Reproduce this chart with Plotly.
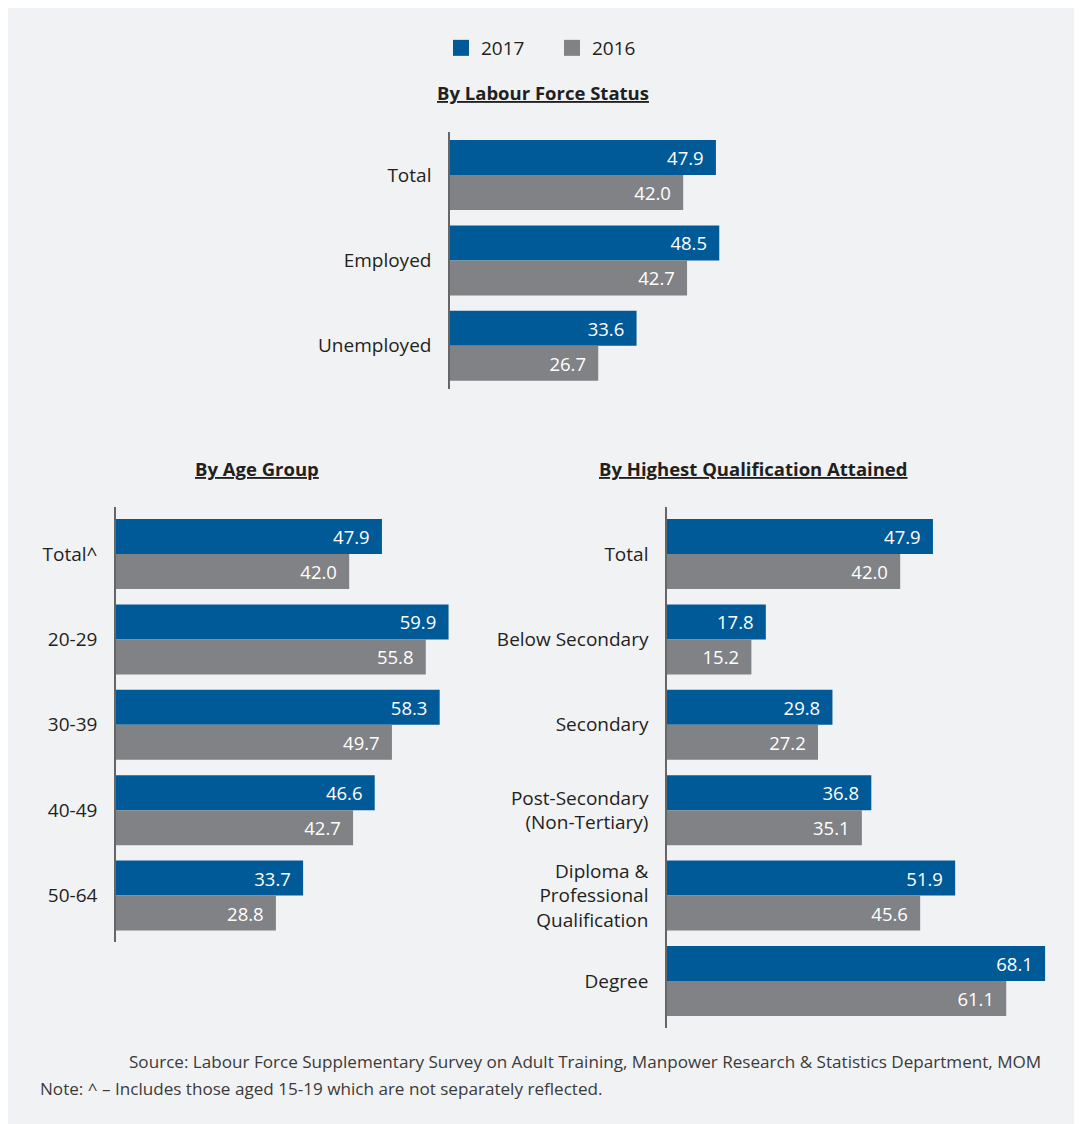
import plotly.graph_objects as go

# ---------------- data ----------------
status_cats = ["Total", "Employed", "Unemployed"]
status_2017 = [47.9, 48.5, 33.6]
status_2016 = [42.0, 42.7, 26.7]

age_cats = ["Total^", "20-29", "30-39", "40-49", "50-64"]
age_2017 = [47.9, 59.9, 58.3, 46.6, 33.7]
age_2016 = [42.0, 55.8, 49.7, 42.7, 28.8]

qual_cats = ["Total", "Below Secondary", "Secondary",
             "Post-Secondary<br>(Non-Tertiary)",
             "Diploma &<br>Professional<br>Qualification", "Degree"]
qual_2017 = [47.9, 17.8, 29.8, 36.8, 51.9, 68.1]
qual_2016 = [42.0, 15.2, 27.2, 35.1, 45.6, 61.1]

series_names = ["2017", "2016"]
titles = ["By Labour Force Status", "By Age Group", "By Highest Qualification Attained"]
source_text = "Source: Labour Force Supplementary Survey on Adult Training, Manpower Research & Statistics Department, MOM"
note_text = "Note: ^ \u2013 Includes those aged 15-19 which are not separately reflected."

# ---------------- style ----------------
OFF = 8                      # page body margin
W, H = 1082 - OFF, 1124 - OFF
BLUE = "#005a97"
GREY = "#818286"
BG = "#f1f2f4"
TXT = "#231f20"
FONT = "Open Sans"
PX_PER_UNIT = 5.552
PITCH = 85.4


def fx(px):
    return (px - OFF) / W


def fy(py):
    return 1 - (py - OFF) / H


fig = go.Figure()

panels = [
    (status_cats, status_2017, status_2016, 450, 132.3, 0.0),
    (age_cats, age_2017, age_2016, 116, 511.3, 4.0),
    (qual_cats, qual_2017, qual_2016, 667, 511.3, 4.0),
]

layout_axes = {}
for i, (cats, v17, v16, x0px, ytop, pad) in enumerate(panels):
    sfx = "" if i == 0 else str(i + 1)
    for vals, name, col in [(v17, series_names[0], BLUE), (v16, series_names[1], GREY)]:
        fig.add_trace(go.Bar(
            x=vals, y=cats, orientation="h", name=name, marker_color=col,
            marker_line_width=0, showlegend=False,
            texttemplate="%{x:.1f}\u2002", textposition="inside",
            insidetextanchor="end", textangle=0,
            textfont=dict(color="white", size=18.5, family=FONT),
            xaxis="x" + sfx, yaxis="y" + sfx, hoverinfo="skip",
        ))
    n = len(cats)
    xmax = 70
    xdom = [fx(x0px), fx(x0px + xmax * PX_PER_UNIT)]
    y_top_px = ytop - pad
    y_bot_px = ytop + n * PITCH + pad
    ydom = [fy(y_bot_px), fy(y_top_px)]
    padu = pad / PITCH
    layout_axes["xaxis" + sfx] = dict(
        domain=xdom, range=[0, xmax], visible=False, fixedrange=True,
        anchor="y" + sfx,
    )
    layout_axes["yaxis" + sfx] = dict(
        domain=ydom, range=[n - 0.5 + padu, -0.5 - padu], type="category",
        categoryorder="array", categoryarray=cats,
        showline=True, linecolor="#666666", linewidth=1.5,
        showgrid=False, zeroline=False, ticks="", ticklabelstandoff=13,
        tickfont=dict(size=19, color=TXT, family=FONT),
        anchor="x" + sfx, fixedrange=True,
    )

# legend entries (square markers)
for name, col in [(series_names[0], BLUE), (series_names[1], GREY)]:
    fig.add_trace(go.Scatter(
        x=[None], y=[None], mode="markers", name=name,
        marker=dict(symbol="square", size=16, color=col),
        showlegend=True, hoverinfo="skip",
    ))

annotations = [
    dict(text="<b><u>%s</u></b>" % titles[0], x=fx(543), y=fy(93)),
    dict(text="<b><u>%s</u></b>" % titles[1], x=fx(257), y=fy(468)),
    dict(text="<b><u>%s</u></b>" % titles[2], x=fx(753), y=fy(468)),
]
for a in annotations:
    a.update(xref="paper", yref="paper", showarrow=False, xanchor="center",
             yanchor="middle", font=dict(size=18.5, color=TXT, family=FONT))
annotations += [
    dict(text=source_text, x=fx(127), y=fy(1061), xref="paper", yref="paper",
         showarrow=False, xanchor="left", yanchor="middle",
         font=dict(size=17.1, color="#3a3a3a", family=FONT)),
    dict(text=note_text, x=fx(38), y=fy(1088), xref="paper", yref="paper",
         showarrow=False, xanchor="left", yanchor="middle",
         font=dict(size=17.1, color="#3a3a3a", family=FONT)),
]

fig.update_layout(
    width=W, height=H,
    margin=dict(l=0, r=0, t=0, b=0),
    paper_bgcolor=BG, plot_bgcolor="rgba(0,0,0,0)",
    barmode="group", bargap=0.18, bargroupgap=0,
    font=dict(family=FONT, color=TXT),
    showlegend=True,
    legend=dict(orientation="h", x=fx(441), xanchor="left", y=fy(29), yanchor="top",
                font=dict(size=19, color=TXT, family=FONT), itemsizing="trace",
                entrywidth=66, bgcolor="rgba(0,0,0,0)", borderwidth=0,
                traceorder="normal"),
    annotations=annotations,
    **layout_axes,
)

fig.write_html("out.html")
